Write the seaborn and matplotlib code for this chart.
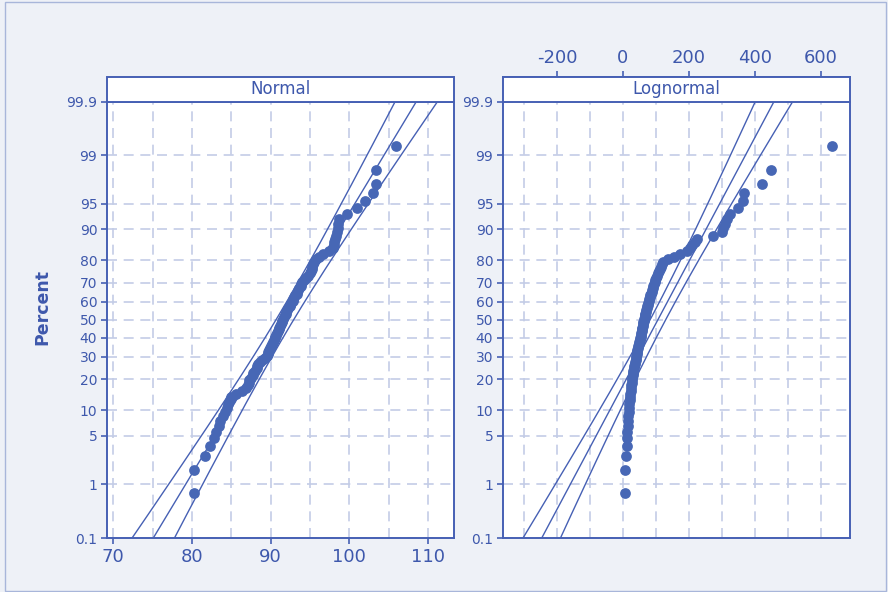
import math
import numpy as np
import pandas as pd
import matplotlib
matplotlib.use("Agg")
import matplotlib.pyplot as plt
import seaborn as sns
from matplotlib.patches import Rectangle
from matplotlib.ticker import FixedLocator, FixedFormatter, MultipleLocator, NullFormatter

# ---------------- data ----------------
normal_values = [80.2, 80.2, 81.7, 82.3, 82.8, 83.1, 83.4, 83.6, 83.9, 84.2,
                 84.4, 84.6, 84.8, 85.0, 85.6, 86.4, 86.9, 87.1, 87.2, 87.3,
                 87.5, 87.7, 87.8, 88.0, 88.2, 88.3, 88.4, 88.6, 88.9, 89.3,
                 89.5, 89.6, 89.7, 89.8, 89.9, 90.1, 90.2, 90.3, 90.4, 90.5,
                 90.6, 90.7, 90.8, 90.9, 91.0, 91.1, 91.2, 91.3, 91.4, 91.5,
                 91.6, 91.7, 91.8, 91.9, 92.0, 92.1, 92.2, 92.4, 92.5, 92.6,
                 92.8, 92.9, 93.0, 93.1, 93.3, 93.4, 93.5, 93.6, 93.8, 93.9,
                 94.0, 94.2, 94.5, 94.8, 95.0, 95.1, 95.2, 95.3, 95.4, 95.5,
                 95.8, 96.2, 96.6, 97.4, 97.9, 98.0, 98.1, 98.2, 98.3, 98.4,
                 98.5, 98.6, 98.7, 99.7, 101.0, 102.0, 103.0, 103.4, 103.4, 105.9]

lognormal_values = [5, 6, 10, 11, 12, 13, 14, 15, 16, 17,
                    18, 19, 20, 21, 22, 23, 24, 25, 26, 27,
                    28, 29, 30, 31, 33, 34, 35, 36, 38, 39,
                    40, 41, 42, 44, 45, 47, 48, 50, 51, 53,
                    54, 55, 56, 57, 58, 59, 60, 61, 62, 63,
                    65, 66, 67, 68, 70, 71, 73, 74, 76, 77,
                    79, 80, 82, 83, 85, 87, 88, 90, 92, 94,
                    96, 98, 100, 103, 105, 108, 111, 114, 118, 122,
                    135, 155, 173, 195, 203, 208, 218, 225, 274, 299,
                    302, 309, 316, 324, 348, 364, 366, 422, 448, 632]

# fitted normal lines
normal_fit = (91.8, 5.41)
lognormal_fit = (105.8, 113.9)
ci_factor = 0.207

panel_titles = ["Normal", "Lognormal"]
y_ticks = [0.1, 1, 5, 10, 20, 30, 40, 50, 60, 70, 80, 90, 95, 99, 99.9]
y_tick_labels = ["0.1", "1", "5", "10", "20", "30", "40", "50", "60", "70",
                 "80", "90", "95", "99", "99.9"]
normal_x_ticks = [70, 80, 90, 100, 110]
lognormal_x_ticks = [-200, 0, 200, 400, 600]

# ---------------- probability scale helpers ----------------
_a = [-3.969683028665376e+01, 2.209460984245205e+02, -2.759285104469687e+02,
      1.383577518672690e+02, -3.066479806614716e+01, 2.506628277459239e+00]
_b = [-5.447609879822406e+01, 1.615858368580409e+02, -1.556989798598866e+02,
      6.680131188771972e+01, -1.328068155211218e+01]
_c = [-7.784894002430293e-03, -3.223964580411365e-01, -2.400758277161838e+00,
      -2.549732539343734e+00, 4.374664141464968e+00, 2.938163982698783e+00]
_d = [7.784695709041462e-03, 3.224671290700398e-01, 2.445134137142996e+00,
      3.754408661907416e+00]


def _ppf_scalar(p):
    p = min(max(p, 1e-12), 1 - 1e-12)
    plow = 0.02425
    if p < plow:
        q = math.sqrt(-2 * math.log(p))
        return (((((_c[0]*q+_c[1])*q+_c[2])*q+_c[3])*q+_c[4])*q+_c[5]) / \
               ((((_d[0]*q+_d[1])*q+_d[2])*q+_d[3])*q+1)
    if p > 1 - plow:
        q = math.sqrt(-2 * math.log(1 - p))
        return -(((((_c[0]*q+_c[1])*q+_c[2])*q+_c[3])*q+_c[4])*q+_c[5]) / \
               ((((_d[0]*q+_d[1])*q+_d[2])*q+_d[3])*q+1)
    q = p - 0.5
    r = q * q
    return (((((_a[0]*r+_a[1])*r+_a[2])*r+_a[3])*r+_a[4])*r+_a[5])*q / \
           (((((_b[0]*r+_b[1])*r+_b[2])*r+_b[3])*r+_b[4])*r+1)


_ppf_vec = np.vectorize(_ppf_scalar, otypes=[float])
_erf_vec = np.vectorize(math.erf, otypes=[float])


def prob_forward(pct):
    pct = np.asarray(pct, dtype=float)
    return _ppf_vec(np.nan_to_num(pct, nan=50.0) / 100.0)


def prob_inverse(z):
    z = np.asarray(z, dtype=float)
    return 50.0 * (1.0 + _erf_vec(z / math.sqrt(2.0)))


# ---------------- style ----------------
sns.set_theme(style="white")
plt.rcParams['font.family'] = ['DejaVu Sans']
plt.rcParams['axes.unicode_minus'] = False

bg = "#EEF1F7"
blue = "#4660B4"
text_blue = "#3E58AC"
point_blue = "#4767B5"
grid_col = "#C3CCE6"

W, H = 888, 592
fig = plt.figure(figsize=(W / 100, H / 100), dpi=100, facecolor=bg)

# outer frame
fig.patches.append(Rectangle((5 / W, 1 / H), 881 / W, 589 / H, transform=fig.transFigure,
                             fill=False, edgecolor="#A8B6DA", linewidth=1.0))

top_px, bot_px = 101.5, 538.0
strip_px = 24.5
ax_h = (bot_px - top_px) / H
ax_y0 = 1 - bot_px / H
strip_frac = strip_px / (bot_px - top_px)

ax_left = fig.add_axes([107 / W, ax_y0, (454 - 107) / W, ax_h])
ax_right = fig.add_axes([503 / W, ax_y0, (850 - 503) / W, ax_h])

panels = [
    (ax_left, normal_values, normal_fit, normal_x_ticks, (69.2, 113.3), 5, panel_titles[0]),
    (ax_right, lognormal_values, lognormal_fit, lognormal_x_ticks, (-363.6, 688.0), 100, panel_titles[1]),
]

for ax, vals, fit, xt, xlim, minor_step, title in panels:
    n = len(vals)
    ranks = np.arange(1, n + 1)
    pct = (ranks - 0.3) / (n + 0.4) * 100.0
    df = pd.DataFrame({"value": np.sort(np.asarray(vals, dtype=float)), "percent": pct})

    ax.set_facecolor("white")
    ax.set_yscale("function", functions=(prob_forward, prob_inverse))

    # fitted line and confidence bands
    mu, sd = fit
    z = np.linspace(-3.8, 3.8, 300)
    p_line = prob_inverse(z)
    half = ci_factor * sd * np.sqrt(1 + z ** 2 / 2)
    for xs in (mu + z * sd, mu + z * sd - half, mu + z * sd + half):
        ldf = pd.DataFrame({"x": xs, "p": p_line})
        sns.lineplot(data=ldf, x="x", y="p", ax=ax, sort=False, estimator=None,
                     color=blue, linewidth=1.0, zorder=2)

    sns.scatterplot(data=df, x="value", y="percent", ax=ax, s=60, color=point_blue,
                    linewidth=0, zorder=3)

    ax.set_xlim(*xlim)
    ax.set_ylim(0.1, 99.9)
    ax.set_xlabel("")
    ax.set_ylabel("")

    ax.yaxis.set_major_locator(FixedLocator(y_ticks))
    ax.yaxis.set_major_formatter(FixedFormatter(y_tick_labels))
    ax.yaxis.set_minor_locator(FixedLocator([]))
    ax.xaxis.set_major_locator(FixedLocator(xt))
    ax.xaxis.set_minor_locator(MultipleLocator(minor_step))
    ax.xaxis.set_minor_formatter(NullFormatter())

    ax.set_axisbelow(True)
    ax.grid(True, axis="x", which="both", color=grid_col, linestyle=(0, (6, 4)), linewidth=1.2)
    ax.grid(True, axis="y", which="major", color=grid_col, linestyle=(0, (6, 4)), linewidth=1.2)

    for s in ax.spines.values():
        s.set_color(blue)
        s.set_linewidth(1.4)

    ax.tick_params(axis="y", which="major", direction="out", length=4.5, width=1.2,
                   color=blue, labelcolor=text_blue, labelsize=10, pad=2.5, left=True)
    ax.tick_params(axis="x", which="minor", length=0)
    ax.tick_params(axis="x", which="major", direction="out", length=4.5, width=1.2,
                   color=blue, labelcolor=text_blue, labelsize=13, pad=3)

    # strip title box
    ax.add_patch(Rectangle((0, 1), 1, strip_frac, transform=ax.transAxes, clip_on=False,
                           facecolor="white", edgecolor=blue, linewidth=1.4, zorder=5))
    ax.text(0.5, 1 + strip_frac / 2, title, transform=ax.transAxes, ha="center",
            va="center", fontsize=12, color=text_blue, zorder=6)

# left panel: ticks on bottom
ax_left.xaxis.set_ticks_position("bottom")
# right panel: ticks on top, above strip
ax_right.xaxis.set_ticks_position("top")
ax_right.spines["top"].set_position(("outward", strip_px * 72 / 100))
ax_right.tick_params(axis="x", which="major", top=True, bottom=False,
                     labeltop=True, labelbottom=False)

fig.text(42 / W, 1 - 307 / H, "Percent", rotation=90, ha="center", va="center",
         fontsize=12.5, fontweight="bold", color=text_blue)

fig.savefig("out.png", dpi=100, facecolor=bg)
